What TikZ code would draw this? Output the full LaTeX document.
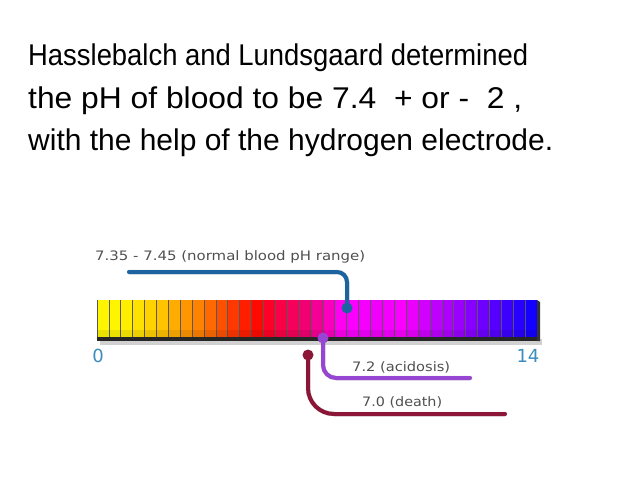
\documentclass[tikz,border=0pt]{standalone}
\usepackage{fontspec}
\setmainfont{Liberation Sans}
\newfontfamily\lblfont{DejaVu Sans}
\usepackage{graphicx}
\definecolor{bluecall}{RGB}{28,100,160}
\definecolor{purpcall}{RGB}{150,70,210}
\definecolor{deathcall}{RGB}{140,22,55}
\definecolor{numblue}{RGB}{60,140,190}
\definecolor{lblgray}{RGB}{80,80,80}
\tikzset{
  titleline/.style={anchor=base west, inner sep=0pt, font=\fontsize{30}{30}\selectfont},
  calllabel/.style={inner sep=0pt, text=lblgray, font=\lblfont\fontsize{13}{13}\selectfont},
  numlabel/.style={inner sep=0pt, text=numblue, font=\lblfont\fontsize{18}{18}\selectfont},
  callline/.style={line width=4pt, line cap=round},
  callshadow/.style={line width=4.5pt, draw=black, draw opacity=0.22, line cap=round},
}
\begin{document}
\begin{tikzpicture}[x=1pt,y=-1pt]
\useasboundingbox[fill=white] (0,0) rectangle (638,479);

% title
\node[titleline] (l1) at (28,65) {\resizebox{500pt}{\height}{Hasslebalch and Lundsgaard determined}};
\node[titleline] (l2) at (28,108) {\resizebox{494pt}{\height}{the pH of blood to be 7.4~~+ or -~~2 ,}};
\node[titleline] (l3) at (28,150) {\resizebox{525pt}{\height}{with the help of the hydrogen electrode.}};

% bar shadow and 3D edges
\fill[black, opacity=0.18] (100,339) rectangle (542,345);
\fill[black!85] (97,335) rectangle (539,341);
\fill[black!80] (537,300) -- (540,302) -- (540,341) -- (537,341) -- cycle;

% segments
\foreach \r/\g/\b [count=\i from 0] in {
255/245/0, 255/245/0, 255/238/0, 255/225/0, 255/210/0, 255/195/0, 255/172/0,
255/150/0, 255/130/0, 255/105/0, 255/80/0, 255/55/0, 255/30/0, 255/10/0,
255/0/40, 250/0/70, 245/0/90, 240/0/115, 245/0/150, 250/0/190, 255/0/240,
250/0/255, 245/0/255, 240/0/250, 245/0/255, 250/0/255, 235/0/255, 210/0/255,
190/0/255, 175/0/255, 155/0/255, 135/0/255, 110/0/255, 85/0/255, 60/0/255,
40/0/255, 20/0/255} {
  \fill[fill={rgb,255:red,\r;green,\g;blue,\b}] ({97+\i*440/37},300) rectangle ({97+(\i+1)*440/37},337);
  \draw[black!65, line width=0.7pt] ({97+\i*440/37},300) -- ({97+\i*440/37},337);
}
\fill[black, opacity=0.08] (97,330) rectangle (537,337);

% end labels
\node[numlabel] (n0) at (98,356) {0};
\node[numlabel] (n14) at (528,356) {14};

% callout coordinates
\coordinate (bluedot) at (347,308);
\coordinate (blueend) at (129,272);
\coordinate (purpdot) at (323,338);
\coordinate (purpend) at (470,378);
\coordinate (deathdot) at (308,355);
\coordinate (deathend) at (505,414);

% shadows
\begin{scope}[shift={(1.5,2.5)}]
  \draw[callshadow, rounded corners=10pt] (blueend) -- (bluedot |- blueend) -- (bluedot);
  \draw[callshadow, rounded corners=13pt] (purpdot) -- (purpdot |- purpend) -- (purpend);
  \draw[callshadow, rounded corners=26pt] (deathdot) -- (deathdot |- deathend) -- (deathend);
\end{scope}

% callout lines
\draw[callline, bluecall, rounded corners=10pt] (blueend) -- (bluedot |- blueend) -- (bluedot);
\fill[bluecall] (bluedot) circle (5.5);
\draw[callline, purpcall, rounded corners=13pt] (purpdot) -- (purpdot |- purpend) -- (purpend);
\fill[purpcall] (purpdot) circle (5.5);
\draw[callline, deathcall, rounded corners=26pt] (deathdot) -- (deathdot |- deathend) -- (deathend);
\fill[deathcall] (deathdot) circle (5.5);

% callout labels
\node[calllabel, anchor=west] (tnorm) at (95,257) {\resizebox{270pt}{\height}{7.35 - 7.45 (normal blood pH range)}};
\node[calllabel, anchor=west] (tacid) at (352,367) {\resizebox{98pt}{\height}{7.2 (acidosis)}};
\node[calllabel, anchor=west] (tdeath) at (362,402) {\resizebox{80pt}{\height}{7.0 (death)}};
\end{tikzpicture}
\end{document}
